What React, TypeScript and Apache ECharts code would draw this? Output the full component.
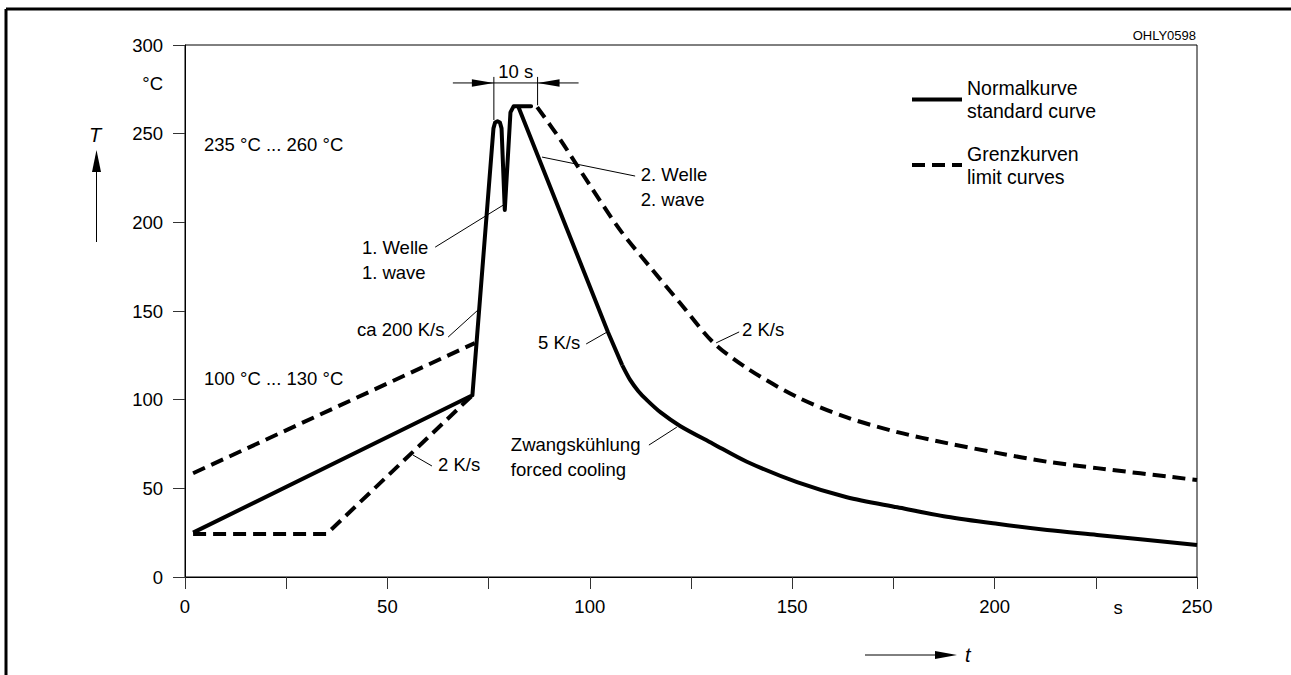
import React, { useEffect, useRef } from "react";
import * as echarts from "echarts";

const FONT = '"Liberation Sans", Arial, Helvetica, sans-serif';

// ---- data (t in s, T in °C) ----
const xLabelValues = [0, 50, 100, 150, 200, 250];

// standard curve: preheating + two waves (sharp corners)
const standardHeating: number[][] = [
  [2, 25], [71, 102.5], [76.2, 253], [76.6, 256.3], [77.2, 257], [77.8, 256.3], [78.2, 253],
  [79, 207], [80.4, 262], [81.2, 265.5], [85.5, 265.5], [82.3, 265.5],
  [94.4, 196], [104.5, 138], [108, 119.5],
];
// standard curve: forced cooling (smooth)
const standardCooling: number[][] = [
  [108, 119.5], [110, 111], [112, 104.8], [114, 100], [117.5, 92.8], [122.3, 85.2],
  [130.4, 75.2], [138.8, 65], [151.2, 53.5], [163.5, 45], [176, 39.3], [188.2, 34],
  [200.6, 30], [213, 26.5], [225.3, 23.7], [250, 18],
];

const lowerLimitPreheat: number[][] = [[2, 24.3], [35, 24.3], [71, 102.5]];
const upperLimitPreheat: number[][] = [[2, 58.5], [71.6, 131.9]];
const upperLimitCooling: number[][] = [
  [87, 265], [92.6, 247], [100, 221], [107.5, 195.6], [115, 174.5], [122.3, 154.5],
  [130.4, 132.5], [138.8, 117.8], [151.2, 101.5], [163.5, 90], [176, 81.7],
  [188.2, 75.5], [200.6, 70], [213, 65], [225.3, 61.4], [250, 54.7],
];

const legendNames = ["Normalkurve", "Grenzkurven"];
const legendSubtitles: Record<string, string> = {
  Normalkurve: "standard curve",
  Grenzkurven: "limit curves",
};

// annotations in data coordinates
const plainLabels = [
  { text: "235 °C ... 260 °C", at: [4.7, 244] },
  { text: "100 °C ... 130 °C", at: [4.7, 112] },
];

const leaderLabels = [
  { text: "1. Welle\n1. wave", at: [43.7, 178.8], from: [61.8, 186], to: [78.6, 209.7] },
  { text: "ca 200 K/s", at: [42.5, 139.3], from: [65, 135.3], to: [72.4, 150.6] },
  { text: "2. Welle\n2. wave", at: [112.6, 220.2], from: [88.2, 236.8], to: [111.2, 226.1] },
  { text: "5 K/s", at: [87.2, 132.5], from: [99.1, 131.4], to: [104.7, 138.7] },
  { text: "2 K/s", at: [62.5, 63.2], from: [61, 62.6], to: [56.3, 68.8] },
  { text: "Zwangskühlung\nforced cooling", at: [80.5, 67.4], from: [114.6, 74.4], to: [121.5, 84.5] },
  { text: "2 K/s", at: [137.6, 139.3], from: [136.9, 138.2], to: [131.2, 132] },
];

// 10 s dimension
const dimStart = 76.3;
const dimEnd = 87.1;
const dimLevel = 278.6;

export default function App() {
  const ref = useRef<HTMLDivElement>(null);

  useEffect(() => {
    const el = ref.current!;
    const chart = echarts.init(el, null, { renderer: "svg" });

    const black = "#000";
    const dashed = [13, 7];
    const LW = 4;
    const axisCommon = {
      axisLine: { show: true, lineStyle: { color: black, width: 1 } },
      axisTick: { show: true, inside: false, length: 12, lineStyle: { color: "#333", width: 1 } },
      splitLine: { show: false },
    };

    const lineSeries = (name: string, data: number[][], dash: boolean, smooth: number, z: number) => ({
      name,
      type: "line",
      data,
      symbol: "none",
      silent: true,
      smooth,
      itemStyle: { color: black },
      lineStyle: { color: black, width: LW, type: dash ? dashed : "solid", join: "round", cap: "butt" },
      z,
    });

    chart.setOption({
      animation: false,
      backgroundColor: "#fff",
      grid: {
        left: 185,
        top: 45,
        width: 1012,
        height: 532,
        show: true,
        borderColor: black,
        borderWidth: 1,
        containLabel: false,
      },
      xAxis: {
        type: "value",
        min: 0,
        max: 250,
        interval: 25,
        ...axisCommon,
        axisLabel: {
          color: black,
          fontFamily: FONT,
          fontSize: 18.5,
          margin: 20,
          showMinLabel: true,
          showMaxLabel: true,
          formatter: (v: number) => (xLabelValues.includes(v) ? String(v) : ""),
        },
      },
      yAxis: {
        type: "value",
        min: 0,
        max: 300,
        interval: 50,
        ...axisCommon,
        axisLabel: { color: black, fontFamily: FONT, fontSize: 18.5, margin: 22 },
      },
      legend: {
        data: legendNames,
        orient: "vertical",
        left: 910,
        top: 76.5,
        padding: 0,
        itemWidth: 50,
        itemHeight: 14,
        itemGap: 19.5,
        selectedMode: false,
        itemStyle: { opacity: 0 },
        lineStyle: { width: LW },
        textStyle: { color: black, fontFamily: FONT, fontSize: 19.5, lineHeight: 23 },
        formatter: (name: string) => `${name}\n${legendSubtitles[name]}`,
      },
      series: [
        lineSeries("Normalkurve", standardHeating, false, 0, 3),
        lineSeries("Normalkurve", standardCooling, false, 0.3, 3),
        lineSeries("Grenzkurven", lowerLimitPreheat, true, 0, 2),
        lineSeries("Grenzkurven", upperLimitPreheat, true, 0, 2),
        lineSeries("Grenzkurven", upperLimitCooling, true, 0.3, 2),
      ],
    });

    const p = (pt: number[]) => chart.convertToPixel({ gridIndex: 0 }, pt) as number[];

    const text = (
      x: number,
      y: number,
      t: string,
      align: string,
      size = 18.5,
      extra: any = {}
    ) => ({
      type: "text",
      x,
      y,
      silent: true,
      z: 10,
      style: {
        text: t,
        fill: black,
        fontFamily: FONT,
        fontSize: size,
        lineHeight: 25,
        textAlign: align,
        align,
        textVerticalAlign: "middle",
        verticalAlign: "middle",
        ...extra,
      },
    });

    const line = (a: number[], b: number[], w = 1) => ({
      type: "line",
      silent: true,
      z: 10,
      shape: { x1: a[0], y1: a[1], x2: b[0], y2: b[1] },
      style: { stroke: black, lineWidth: w },
    });

    const tri = (pts: number[][]) => ({
      type: "polygon",
      silent: true,
      z: 10,
      shape: { points: pts },
      style: { fill: black, stroke: "none" },
    });

    const g: any[] = [];

    // outer frame (top and left)
    g.push(line([6, 9], [1291, 9], 3));
    g.push(line([6, 9], [6, 675], 3));

    // drawing number
    g.push(text(1196, 35, "OHLY0598", "right", 13));

    // unit labels
    g.push(text(163, 83, "°C", "right"));
    g.push(text(1118, 607, "s", "center"));

    // T axis arrow
    g.push(text(95, 135, "T", "center", 20, { fontStyle: "italic" }));
    g.push(line([96.5, 242], [96.5, 168], 1));
    g.push(tri([[96.5, 150], [92, 172], [101, 172]]));

    // t axis arrow
    g.push(line([865, 655], [940, 655], 1));
    g.push(tri([[957, 655], [935, 651], [935, 659]]));
    g.push(text(965, 655, "t", "left", 20, { fontStyle: "italic" }));

    // plain annotations
    plainLabels.forEach((l) => {
      const q = p(l.at);
      g.push(text(q[0], q[1], l.text, "left"));
    });

    // annotations with leader lines
    leaderLabels.forEach((l) => {
      const q = p(l.at);
      g.push(text(q[0], q[1], l.text, "left"));
      g.push(line(p(l.from), p(l.to), 1));
    });

    // 10 s dimension
    const a = p([dimStart, dimLevel]);
    const b = p([dimEnd, dimLevel]);
    const aTop = p([dimStart, 282]);
    const aBot = p([dimStart, 257.7]);
    const bTop = p([dimEnd, 282]);
    const bBot = p([dimEnd, 266]);
    g.push(line(aTop, aBot, 1));
    g.push(line(bTop, bBot, 1));
    g.push(line([a[0] - 41, a[1]], [b[0] + 41, b[1]], 1));
    g.push(tri([[a[0], a[1]], [a[0] - 22, a[1] - 3.7], [a[0] - 22, a[1] + 3.7]]));
    g.push(tri([[b[0], b[1]], [b[0] + 22, b[1] - 3.7], [b[0] + 22, b[1] + 3.7]]));
    const mid = p([(dimStart + dimEnd) / 2, 284.8]);
    g.push(text(mid[0], mid[1], "10 s", "center"));

    chart.setOption({ graphic: g });

    return () => chart.dispose();
  }, []);

  return (
    <div
      ref={ref}
      style={{ position: "fixed", left: 0, top: 0, width: 1291, height: 675, background: "#fff" }}
    />
  );
}
